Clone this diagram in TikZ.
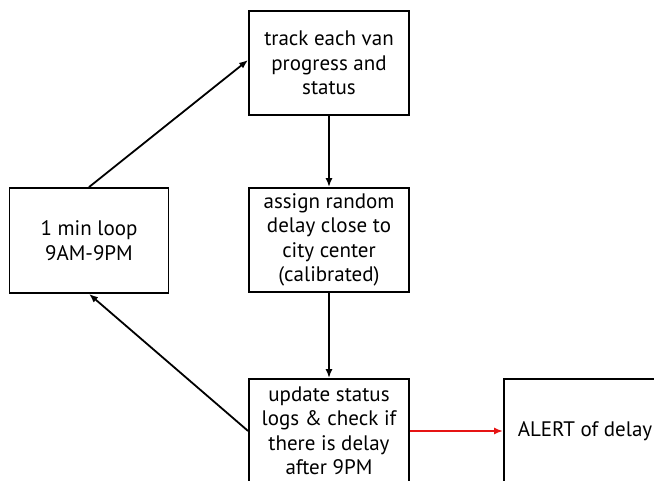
\documentclass[tikz,border=0pt]{standalone}
\usepackage{fontspec}
\setmainfont{PT Sans}
\usetikzlibrary{arrows.meta}
\begin{document}
\begin{tikzpicture}[x=1pt,y=-1pt,
  box/.style={draw=black, line width=1.8pt, fill=white, align=center,
    minimum width=160pt, minimum height=104pt, inner sep=2pt,
    font=\fontsize{21}{24.5}\selectfont},
  flow/.style={line width=1.8pt, -{Latex[length=9pt,width=7pt]}},
  alertflow/.style={draw={rgb,255:red,230;green,20;blue,20}, line width=1.8pt,
    -{Latex[length=9pt,width=7pt]}}]
\clip (0,0) rectangle (654,481);
\fill[white] (0,0) rectangle (654,481);

\node[box] (track)  at (329,63)   {track each van\\progress and\\status};
\node[box] (assign) at (329,240)  {assign random\\delay close to\\city center\\(calibrated)};
\node[box, minimum width=159pt, minimum height=105pt] (loop) at (89,240.5) {1 min loop\\9AM-9PM};
\node[box] (update) at (329,431)  {update status\\logs \& check if\\there is delay\\after 9PM};
\node[box, minimum width=162pt] (alert) at (585,431) {ALERT of delay};

\draw[flow] (loop.north) -- ([yshift=3pt]track.west);
\draw[flow] (track.south) -- (assign.north);
\draw[flow] (assign.south) -- (update.north);
\draw[flow] (update.west) -- (loop.south);
\draw[alertflow] (update.east) -- (alert.west);
\end{tikzpicture}
\end{document}
